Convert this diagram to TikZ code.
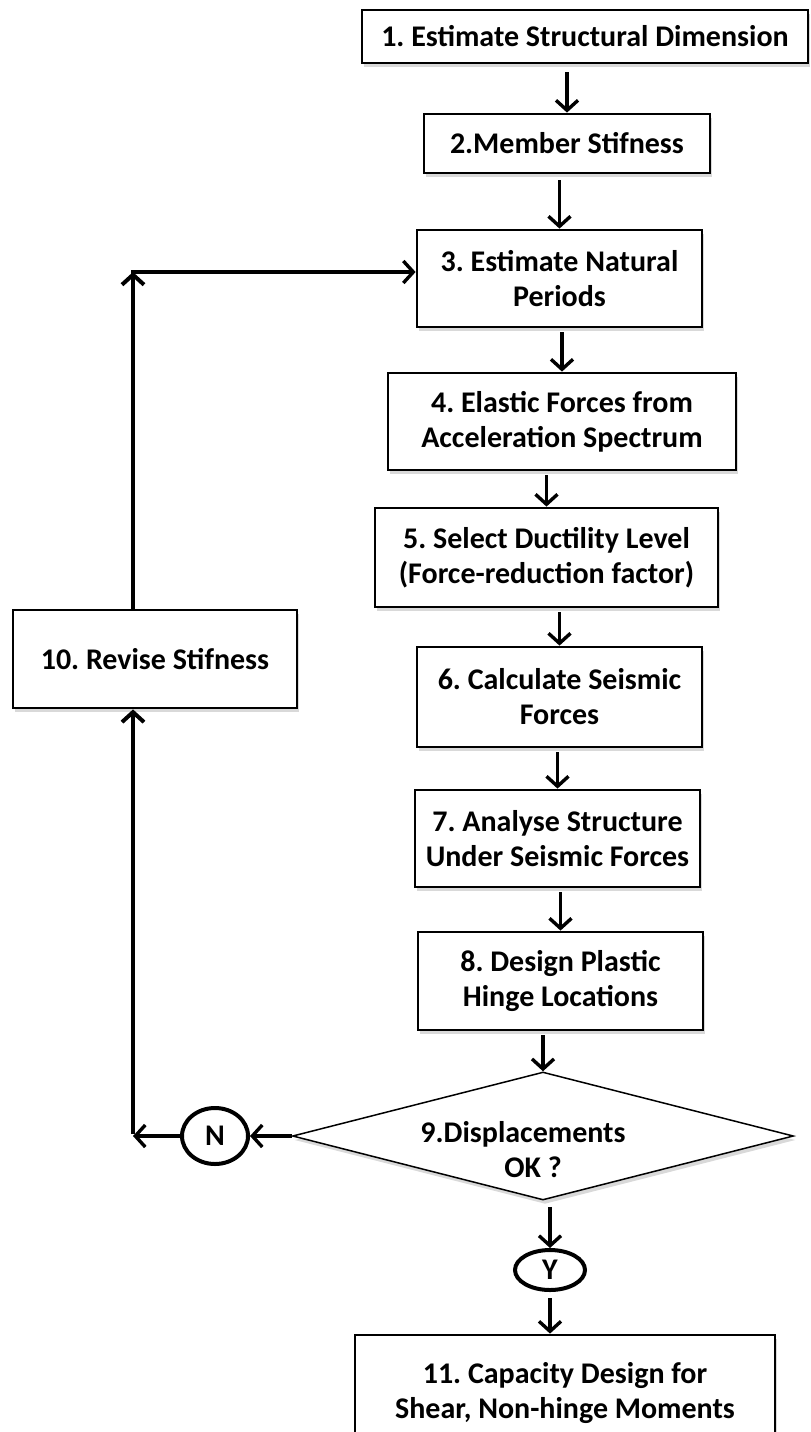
\documentclass[tikz,border=0pt]{standalone}
\usepackage{fontspec}
\setmainfont{Carlito}
\usetikzlibrary{arrows.meta,shapes.geometric,shadows,positioning}
\frenchspacing

\begin{document}
\begin{tikzpicture}
[
	x=1pt, y=-1pt,
	stepbox/.style = {rectangle, draw, line width=2.8pt, fill=white, align=center, inner sep=4pt,
		font=\fontsize{30}{35}\selectfont\bfseries,
		drop shadow={shadow xshift=2pt, shadow yshift=-4pt, opacity=0.3}},
	decision/.style = {diamond, draw, line width=1.5pt, fill=white, aspect=3.9, inner sep=2pt,
		drop shadow={shadow xshift=2pt, shadow yshift=-4pt, opacity=0.3}},
	label/.style = {align=center, inner sep=0pt, font=\fontsize{30}{35}\selectfont\bfseries},
	answer/.style = {ellipse, draw, line width=4pt, inner sep=0pt, font=\fontsize{30}{35}\selectfont\bfseries},
	arrow/.style = {-{Straight Barb[length=10pt, width=22pt]}, line width=3.4pt},
	loop/.style = {arrow, line width=4pt}
]
\useasboundingbox (0,0) rectangle (811,1432);
\clip (0,0) rectangle (811,1432);

\node[stepbox, minimum width=446pt, minimum height=53pt] (dimension) at (585,36.5) {1. Estimate Structural Dimension};
\node[stepbox, minimum width=286pt, minimum height=59pt] (member) at (567,143.5) {2.Member Stifness};
\node[stepbox, minimum width=285pt, minimum height=97pt] (natural) at (559.5,278.5) {3. Estimate Natural\\Periods};
\node[stepbox, minimum width=348pt, minimum height=97pt] (elastic) at (562,421.5) {4. Elastic Forces from\\Acceleration Spectrum};
\node[stepbox, minimum width=343pt, minimum height=99pt] (ductility) at (546.5,557.5) {5. Select Ductility Level\\(Force-reduction factor)};
\node[stepbox, minimum width=285pt, minimum height=100pt] (seismic) at (559.5,697) {6. Calculate Seismic\\Forces};
\node[stepbox, minimum width=285pt, minimum height=97pt] (analyse) at (557.5,838.5) {7. Analyse Structure\\Under Seismic Forces};
\node[stepbox, minimum width=285pt, minimum height=98pt] (hinge) at (560.5,981) {8. Design Plastic\\Hinge Locations};
\node[decision, minimum width=501pt, minimum height=128pt] (displ) at (543,1136) {};
\node[label] (displtext) at (523,1150) {9.Displacements\\\hspace*{20pt}OK ?};
\node[answer, minimum width=66pt, minimum height=56pt] (no) at (215,1136) {N};
\node[answer, minimum width=70pt, minimum height=40pt] (yes) at (550,1270) {Y};
\node[stepbox, minimum width=420pt, minimum height=115pt] (capacity) at (565,1392.5) {11. Capacity Design for\\Shear, Non-hinge Moments};
\node[stepbox, minimum width=284pt, minimum height=98pt] (revise) at (155,659) {10. Revise Stifness};

\draw[arrow, shorten <=8pt] (dimension.south -| member) -- (member.north);
\draw[arrow, shorten <=6pt] (member.south -| natural) -- (natural.north);
\draw[arrow, shorten <=4pt] (natural.south -| elastic) -- (elastic.north);
\draw[arrow, shorten <=4pt] (elastic.south -| ductility) -- (ductility.north);
\draw[arrow, shorten <=4pt] (ductility.south -| seismic) -- (seismic.north);
\draw[arrow, shorten <=4pt] (seismic.south -| analyse) -- (analyse.north);
\draw[arrow, shorten <=4pt] (analyse.south -| hinge) -- (hinge.north);
\draw[arrow, shorten <=4pt] (hinge.south -| displ) -- (displ.north);
\draw[arrow, shorten <=6pt] (displ.south -| yes) -- (yes.north);
\draw[arrow, shorten <=6pt] (yes.south) -- (yes.south |- capacity.north);

% loop back through N
\coordinate (loopbot) at (133,1136);
\coordinate (looptop) at (133,272);
\draw[arrow] (displ.west) -- (no.east);
\draw[arrow] (no.west) -- (loopbot);
\draw[loop] ([yshift=2pt]loopbot) -- (loopbot |- revise.south);
\draw[loop] (loopbot |- revise.north) -- (looptop);
\draw[arrow] ([xshift=-2pt]looptop) -- (looptop -| natural.west);

\end{tikzpicture}
\end{document}
